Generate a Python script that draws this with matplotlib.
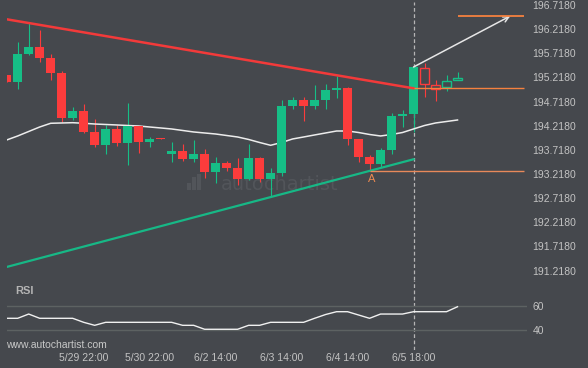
import numpy as np
import matplotlib
matplotlib.use("Agg")
import matplotlib.pyplot as plt

# 4h candles, price data
opens = [195.269, 195.130, 195.704, 195.848, 195.621, 195.310, 194.385, 194.523, 194.089, 193.819,
         194.151, 193.867, 194.219, 193.888, 193.971, 193.639, 193.695, 193.530, 193.633, 193.267,
         193.447, 193.350, 193.116, 193.550, 193.116, 193.233, 194.627, 194.745, 194.627, 194.745,
         194.958, 195.006, 193.944, 193.571, 193.426, 193.716, 194.426, 194.467, 195.420, 195.055,
         195.014, 195.159]
highs = [195.269, 195.946, 196.339, 196.200, 195.704, 195.352, 194.612, 194.662, 194.352, 194.234,
         194.234, 194.683, 194.219, 193.979, 193.971, 193.875, 193.834, 193.923, 193.730, 193.565,
         193.488, 193.544, 193.834, 193.577, 193.337, 194.751, 194.807, 194.807, 195.062, 195.076,
         195.248, 195.027, 193.944, 193.612, 193.757, 194.476, 194.544, 195.434, 195.523, 195.165,
         195.262, 195.331]
lows = [195.130, 194.973, 195.683, 195.544, 195.159, 194.302, 194.337, 194.062, 193.772, 193.633,
        193.805, 193.405, 193.660, 193.784, 193.950, 193.461, 193.488, 193.474, 193.130, 193.026,
        193.281, 192.991, 193.095, 193.060, 192.749, 193.178, 194.559, 194.316, 194.559, 194.559,
        194.786, 193.819, 193.474, 193.287, 193.370, 193.633, 194.198, 194.095, 194.807, 194.730,
        194.944, 195.159]
closes = [195.130, 195.704, 195.848, 195.621, 195.316, 194.385, 194.523, 194.095, 193.819, 194.151,
          193.867, 194.219, 193.888, 193.944, 193.950, 193.695, 193.524, 193.633, 193.267, 193.447,
          193.350, 193.116, 193.550, 193.116, 193.233, 194.627, 194.745, 194.627, 194.745, 194.958,
          194.993, 193.944, 193.571, 193.432, 193.716, 194.420, 194.461, 195.434, 195.076, 194.973,
          195.145, 195.200]
ma = [193.923, 194.006, 194.099, 194.192, 194.269, 194.275, 194.281, 194.269, 194.254, 194.244,
      194.234, 194.223, 194.213, 194.192, 194.172, 194.151, 194.120, 194.089, 194.068, 194.047,
      194.016, 193.985, 193.934, 193.871, 193.813, 193.871, 193.944, 193.985, 194.027, 194.068,
      194.109, 194.109, 194.078, 194.037, 194.006, 194.037, 194.078, 194.151, 194.223, 194.275,
      194.306, 194.337]
rsi = [49.75, 49.75, 53.3, 49.75, 49.75, 49.75, 49.75, 46.4, 43.9, 46.4,
       46.4, 46.4, 46.4, 46.4, 46.4, 46.4, 43.9, 43.9, 40.6, 40.6,
       40.6, 40.6, 43.9, 43.9, 46.4, 46.4, 46.4, 46.4, 49.75, 52.9,
       55.25, 55.25, 52.5, 49.75, 53.3, 53.3, 53.3, 55.25, 55.25, 55.25,
       55.25, 59.4]

price_ticks = [196.718, 196.218, 195.718, 195.218, 194.718, 194.218,
               193.718, 193.218, 192.718, 192.218, 191.718, 191.218]
time_ticks = [7, 13, 19, 25, 31, 37]
time_labels = ["5/29 22:00", "5/30 22:00", "6/2 14:00", "6/3 14:00", "6/4 14:00", "6/5 18:00"]

# pattern annotations
resist_x = [0, 37]
resist_y = [196.422, 194.993]
support_x = [0, 37]
support_y = [191.294, 193.524]
breakout_idx = 37
n_done = 38           # candles up to the breakout are filled, after that hollow
target_level = 196.490
breakout_level = 194.993
point_a_level = 193.275
point_a_idx = 33
line_end = 47

bg = "#45484d"
up_col = "#16be86"
dn_col = "#fc3c3c"
orange = "#f5813f"
txt_col = "#c3c3c3"
font = "Liberation Sans"

fig = plt.figure(figsize=(5.88, 3.68), dpi=100, facecolor=bg)
W, H = 588, 368
ax = fig.add_axes([6.7 / W, 1 - 280 / H, (527 - 6.7) / W, 278 / H])
ax2 = fig.add_axes([6.7 / W, 1 - 350 / H, (527 - 6.7) / W, 70 / H], sharex=ax)

for a in (ax, ax2):
    a.set_facecolor(bg)
    for s in a.spines.values():
        s.set_visible(False)

x = np.arange(len(opens))
o = np.array(opens)
c = np.array(closes)
hi = np.array(highs)
lo = np.array(lows)
col = np.where(c >= o, up_col, dn_col)

# watermark
ax.text(0.412, 0.345, "autochartist", transform=ax.transAxes, fontsize=14,
        color="#52555a", family="DejaVu Sans", ha="left", va="center", zorder=0)
logo = fig.add_axes([186 / W, 1 - 190 / H, 16 / W, 16 / H])
logo.bar([0, 1, 2], [0.45, 0.8, 1.0], width=0.7, color="#52555a")
logo.set_xlim(-0.5, 2.5)
logo.set_ylim(0, 1)
logo.axis("off")

# candles
filled = x < n_done
ax.vlines(x, lo, hi, colors=col, linewidth=0.8, zorder=2)
ax.bar(x[filled], np.abs(c - o)[filled], bottom=np.minimum(o, c)[filled], width=0.8,
       color=col[filled], linewidth=0, zorder=3)
ax.bar(x[~filled], np.abs(c - o)[~filled], bottom=np.minimum(o, c)[~filled], width=0.8,
       facecolor=bg, edgecolor=col[~filled], linewidth=1.0, zorder=3)

ax.plot(x, ma, color="#ececec", linewidth=1.1, zorder=2)
ax.plot(resist_x, resist_y, color="#f23a3a", linewidth=1.8, zorder=4)
ax.plot(support_x, support_y, color="#17b886", linewidth=1.6, zorder=4)

ax.hlines(target_level, 41, line_end, color=orange, linewidth=1.3, zorder=4)
ax.hlines(breakout_level, breakout_idx, line_end, color=orange, linewidth=1.0, zorder=4)
ax.hlines(point_a_level, point_a_idx, line_end, color="#e8895a", linewidth=1.0, zorder=4)
ax.text(point_a_idx + 0.2, point_a_level - 0.05, "A", color="#ee8a50", fontsize=8,
        family=font, ha="center", va="top")

ax.annotate("", xy=(45.8, target_level), xytext=(breakout_idx, closes[breakout_idx]),
            arrowprops=dict(arrowstyle="->", color="#e6e6e6", lw=1.1,
                            shrinkA=0, shrinkB=0, mutation_scale=10))

ax.axvline(breakout_idx, color="#b5b5b5", linewidth=0.9, linestyle=(0, (3, 2)), zorder=1)
ax2.axvline(breakout_idx, color="#b5b5b5", linewidth=0.9, linestyle=(0, (3, 2)), zorder=1)

ax.set_xlim(0.0, (527 - 6.5) / 11)
ax.set_ylim(191.024, 196.780)
ax.yaxis.tick_right()
ax.set_yticks(price_ticks)
ax.set_yticklabels([f"{p:.4f}" for p in price_ticks])
ax.tick_params(axis="y", length=0, pad=4, labelsize=7.5, labelcolor=txt_col)
ax.tick_params(axis="x", length=0, labelbottom=False)
for lab in ax.get_yticklabels():
    lab.set_family(font)

# RSI panel
ax2.plot(x, rsi, color="#f0f0f0", linewidth=1.0, zorder=3)
ax2.axhline(60, color="#5d6262", linewidth=1.0, zorder=1)
ax2.axhline(40, color="#5d6262", linewidth=1.0, zorder=1)
ax2.set_ylim(23.33, 81.67)
ax2.yaxis.tick_right()
ax2.set_yticks([60, 40])
ax2.tick_params(axis="y", length=0, pad=4, labelsize=7.5, labelcolor=txt_col)
ax2.set_xticks(time_ticks)
ax2.set_xticklabels(time_labels)
ax2.tick_params(axis="x", length=0, pad=2, labelsize=7.5, labelcolor=txt_col)
for lab in ax2.get_yticklabels() + ax2.get_xticklabels():
    lab.set_family(font)
ax2.text(15 / W, 1 - 291 / H, "RSI", transform=fig.transFigure, fontsize=8,
         fontweight="bold", color="#b4b4b4", family=font, ha="left", va="center")
fig.text(6 / W, 1 - 345 / H, "www.autochartist.com", fontsize=7.5, color="#c8c8c8",
         family=font, ha="left", va="center")

fig.savefig("out.png", dpi=100, facecolor=bg)
